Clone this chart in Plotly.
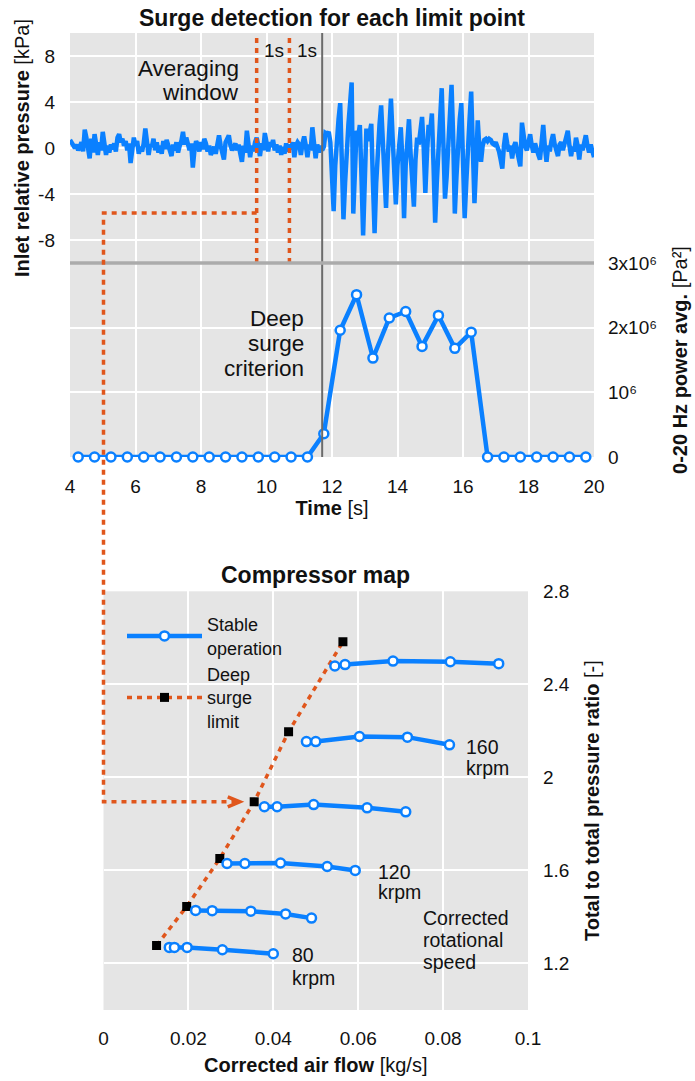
import plotly.graph_objects as go

# ------------------------------------------------------------------ data
# Inlet relative pressure [kPa], sampled every 0.05 s from 4.00 s to 20.00 s
t_start, t_step = 4.0, 0.05
pressure_kpa = [
    0.7, 0.4, 0.2, 0.0, 0.3, -0.2, 0.1, 0.5, -0.3, 1.6, 0.9, 0.2, -0.9, 0.8, -0.4, 1.2, 0.3, -0.6, 0.5, -0.2,
    1.4, 0.6, -0.6, 0.2, -0.4, 0.3, -0.1, 0.4, -0.3, 0.9, 1.2, 0.5, 0.8, 0.2, 0.6, -0.2, 0.4, -1.3, 0.3, 0.9,
    0.2, 0.6, -0.5, 0.1, -0.3, 0.4, 1.7, 0.2, -0.6, 0.3, 0.1, 0.8, -0.2, 0.5, -0.4, 0.2, -0.5, 0.6, -0.1, 0.7,
    0.2, -0.3, -0.7, 0.3, -0.2, 0.5, -0.4, 0.2, 0.6, 1.4, 0.3, 0.9, 0.1, -0.2, 0.4, -1.7, -0.2, 0.6, 0.3, -0.3,
    0.5, -0.1, 0.8, 0.4, -0.3, 0.2, -0.6, -0.3, 0.1, -0.5, 0.6, 1.1, 0.2, -0.4, -1.0, 0.5, 0.9, 1.1, 0.2, -0.2,
    0.1, 0.4, -0.2, 0.3, -0.5, -1.2, 0.2, -0.4, 1.5, 0.6, -0.8, 0.2, -0.3, 0.5, 0.9, 0.2, -0.7, 0.4, -0.2, 1.3,
    0.6, -0.3, 0.5, 0.1, 0.7, -0.2, 0.3, -0.4, 0.2, -0.6, 0.1, -0.5, 0.4, -0.3, 0.3, -0.1, 0.5, -0.8, 0.2, 0.5,
    0.3, -0.6, 0.4, 1.0, 0.2, -0.8, 0.3, -0.2, 1.8, 0.4, -0.9, 0.3, -0.4, 0.2, -0.2, 0.1, 1.3, 1.2, 1.4, 0.5,
    -2.5, -5.5, -1.5, 1.0, 2.5, 3.9, -1.0, -6.2, -3.0, 0.0, 2.0, 3.8, 5.7, -5.7, -1.0, 1.5, 1.0, 2.0, -2.5, -7.6,
    -3.0, 1.7, 0.6, 1.2, 2.1, -3.0, -7.4, -3.0, 0.5, 2.0, 3.7, 0.5, -2.5, -5.2, -1.0, 1.5, 4.3, 1.0, -2.0, -4.9,
    -1.5, 0.3, 1.8, -1.0, -6.1, -1.5, 1.0, 2.5, -0.5, -3.0, -5.1, -1.0, 0.9, 0.3, 1.5, 2.7, 0.0, -3.9, -0.5, 2.0,
    1.5, 3.0, -1.5, -6.5, -3.0, 0.5, 3.0, 5.2, 0.5, -4.4, -2.5, 0.0, 2.5, 5.5, 1.0, -5.7, -2.5, 0.5, 2.5, 3.9,
    -1.0, -6.1, -3.0, 0.5, 2.5, 4.9, 0.5, -4.8, -1.5, 2.4, 0.0, -1.2, 0.2, 0.7, 0.8, 0.6, 0.8, 0.7, 0.4, 0.3,
    0.5, 0.1, -0.3, -1.0, -1.8, 0.2, 1.3, 0.4, -0.3, 0.2, -0.9, 0.1, 0.5, -0.2, -0.8, -1.6, 2.2, 0.9, 0.1, -0.2,
    0.6, 1.2, 0.2, -0.4, 0.4, -0.3, -0.6, -1.0, 0.5, 2.0, 0.1, -1.2, 0.2, -0.3, 0.6, 1.2, 0.3, -0.2, -0.7, 0.3,
    0.5, -0.2, 0.4, 0.9, 1.5, 0.2, -0.7, 0.1, -0.3, 0.9, 0.2, -1.0, 0.3, -0.2, 0.6, 1.1, 0.2, -0.4, 0.3, -0.2,
    -0.8,
]
time_s = [round(t_start + t_step * i, 2) for i in range(len(pressure_kpa))]

# 0-20 Hz power average [Pa^2], one value per 0.5 s window
power_t = [4.25, 4.75, 5.25, 5.75, 6.25, 6.75, 7.25, 7.75, 8.25, 8.75, 9.25, 9.75, 10.25, 10.75,
           11.25, 11.75, 12.25, 12.75, 13.25, 13.75, 14.25, 14.75, 15.25, 15.75, 16.25, 16.75,
           17.25, 17.75, 18.25, 18.75, 19.25, 19.75]
power_pa2 = [0, 0, 0, 0, 0, 0, 0, 0, 0, 0, 0, 0, 0, 0,
             0, 0.36e6, 1.96e6, 2.51e6, 1.53e6, 2.15e6, 2.25e6, 1.71e6, 2.19e6, 1.68e6, 1.93e6, 0,
             0, 0, 0, 0, 0, 0]

window_start, window_end, detection_time = 9.7, 10.7, 11.7

# Compressor map: corrected air flow [kg/s] and total-to-total pressure ratio [-]
speed_flow = {
    80:  [0.0155, 0.0167, 0.0197, 0.0280, 0.0400],
    100: [0.0217, 0.0256, 0.0347, 0.0429, 0.0490],
    120: [0.0291, 0.0333, 0.0417, 0.0527, 0.0593],
    140: [0.0379, 0.0409, 0.0495, 0.0621, 0.0712],
    160: [0.0478, 0.0500, 0.0603, 0.0716, 0.0815],
    180: [0.0545, 0.0569, 0.0682, 0.0817, 0.0931],
}
speed_pr = {
    80:  [1.269, 1.269, 1.269, 1.259, 1.242],
    100: [1.428, 1.427, 1.425, 1.413, 1.395],
    120: [1.630, 1.630, 1.632, 1.617, 1.600],
    140: [1.874, 1.874, 1.883, 1.869, 1.852],
    160: [2.154, 2.154, 2.176, 2.173, 2.140],
    180: [2.479, 2.485, 2.500, 2.497, 2.489],
}
surge_flow = [0.0125, 0.0196, 0.0274, 0.0355, 0.0436, 0.0564]
surge_pr = [1.277, 1.445, 1.651, 1.895, 2.196, 2.583]

time_ticks = [4, 6, 8, 10, 12, 14, 16, 18, 20]
pressure_ticks = [-8, -4, 0, 4, 8]
pressure_ticktext = ["-8", "-4", "0", "4", "8"]
power_ticks = [0, 1e6, 2e6, 3e6]
power_ticktext = ["0", "10\u2076", "2x10\u2076", "3x10\u2076"]
flow_ticks = [0, 0.02, 0.04, 0.06, 0.08, 0.1]
flow_ticktext = ["0", "0.02", "0.04", "0.06", "0.08", "0.1"]
pr_ticks = [1.2, 1.6, 2.0, 2.4, 2.8]
pr_ticktext = ["1.2", "1.6", "2", "2.4", "2.8"]

# ------------------------------------------------------------------ style / geometry
W, H = 695, 1081
FONT = "Liberation Sans, Arial, Helvetica, sans-serif"
TXT = "#111111"
BLUE = "#0a80ff"
ORANGE = "#e0561c"
BG = "#e5e5e5"
DASH = "5px,5px"
LW = 4.5


def px_x(p):
    return p / W


def px_y(p):
    return 1 - p / H


XR_T, YR_P, YR_W = [4, 20], [-10, 10], [0, 3e6]
XR_M, YR_M = [0, 0.1], [1.0, 2.8]
XD_T = [px_x(70), px_x(594)]
YD_P = [px_y(263), px_y(33)]
YD_W = [px_y(457), px_y(263)]
XD_M = [px_x(103.5), px_x(528)]
YD_M = [px_y(1010), px_y(591.3)]


def to_paper(v, rng, dom):
    return dom[0] + (v - rng[0]) / (rng[1] - rng[0]) * (dom[1] - dom[0])


fig = go.Figure()

# top: pressure signal
fig.add_trace(go.Scatter(x=time_s, y=pressure_kpa, xaxis="x", yaxis="y", mode="lines",
                         line=dict(color=BLUE, width=LW), showlegend=False, hoverinfo="skip"))
# bottom: power average
fig.add_trace(go.Scatter(x=power_t, y=power_pa2, xaxis="x", yaxis="y2", mode="lines+markers",
                         line=dict(color=BLUE, width=LW),
                         marker=dict(symbol="circle", size=9, color="white", line=dict(color=BLUE, width=2.5)),
                         cliponaxis=False, showlegend=False))

# compressor map: surge limit
fig.add_trace(go.Scatter(x=surge_flow, y=surge_pr, xaxis="x3", yaxis="y3", mode="lines+markers",
                         name="Deep<br>surge<br>limit", legendrank=2,
                         line=dict(color=ORANGE, width=3.5, dash=DASH),
                         marker=dict(symbol="square", size=9, color="black")))
# compressor map: speed lines
for i, spd in enumerate(speed_flow):
    fig.add_trace(go.Scatter(x=speed_flow[spd], y=speed_pr[spd], xaxis="x3", yaxis="y3",
                             mode="lines+markers", name="Stable<br>operation", legendgroup="stable",
                             legendrank=1, showlegend=(i == 0),
                             line=dict(color=BLUE, width=LW),
                             marker=dict(symbol="circle", size=9, color="white",
                                         line=dict(color=BLUE, width=2.5))))

axis_common = dict(showgrid=True, gridcolor="white", gridwidth=1.5, zeroline=False, showline=False,
                   ticks="", automargin=False, tickfont=dict(family=FONT, size=19, color=TXT))
title_font = dict(family=FONT, size=20, color=TXT)

fig.update_layout(
    width=W, height=H, template="none",
    margin=dict(l=0, r=0, t=0, b=0, pad=0),
    paper_bgcolor="white", plot_bgcolor=BG,
    font=dict(family=FONT, size=19, color=TXT),
    title=dict(text="<b>Surge detection for each limit point</b>", x=(XD_T[0] + XD_T[1]) / 2,
               xanchor="center", y=px_y(18), yanchor="middle", yref="container",
               font=dict(family=FONT, size=23, color=TXT)),
    xaxis=dict(domain=XD_T, range=XR_T, anchor="y2", tickvals=time_ticks, ticklabelstandoff=16,
               title=dict(text="<b>Time</b> [s]", font=title_font, standoff=2), **axis_common),
    yaxis=dict(domain=YD_P, range=YR_P, anchor="x", tickvals=pressure_ticks, ticktext=pressure_ticktext,
               ticklabelstandoff=14,
               title=dict(text="<b>Inlet relative pressure</b> [kPa]", font=title_font, standoff=3),
               **axis_common),
    yaxis2=dict(domain=YD_W, range=YR_W, anchor="x", side="right", tickvals=power_ticks,
                ticktext=power_ticktext, ticklabelstandoff=13,
                title=dict(text="<b>0-20 Hz power avg.</b> [Pa\u00b2]", font=title_font, standoff=16),
                **axis_common),
    xaxis3=dict(domain=XD_M, range=XR_M, anchor="y3", tickvals=flow_ticks, ticktext=flow_ticktext,
                ticklabelstandoff=15,
                title=dict(text="<b>Corrected air flow</b> [kg/s]", font=title_font, standoff=9),
                **axis_common),
    yaxis3=dict(domain=YD_M, range=YR_M, anchor="x3", side="right", tickvals=pr_ticks,
                ticktext=pr_ticktext, ticklabelstandoff=14,
                title=dict(text="<b>Total to total pressure ratio</b> [-]", font=title_font, standoff=16),
                **axis_common),
    legend=dict(x=px_x(122), y=px_y(606), xanchor="left", yanchor="top", bgcolor="rgba(0,0,0,0)",
                font=dict(family=FONT, size=18, color=TXT), itemwidth=75, tracegroupgap=4,
                traceorder="normal"),
    showlegend=True,
)

# ------------------------------------------------------------------ shapes
shapes = []
for tx in (window_start, window_end):
    shapes.append(dict(type="line", xref="x", yref="y domain", x0=tx, x1=tx, y0=0, y1=1,
                       line=dict(color=ORANGE, width=3.5, dash=DASH)))
shapes.append(dict(type="line", xref="x", yref="paper", x0=detection_time, x1=detection_time,
                   y0=YD_W[0], y1=YD_P[1], line=dict(color="#6b6b6b", width=2)))
# separator between the two panels (paper-referenced so it is not clipped)
shapes.append(dict(type="line", xref="paper", yref="paper", x0=XD_T[0], x1=XD_T[1],
                   y0=YD_W[1], y1=YD_W[1], line=dict(color="#ababab", width=3.5)))

connector_level_kpa = -5.65
arrow_end_flow = 0.0321
xa = to_paper(window_start, XR_T, XD_T)
ya = to_paper(connector_level_kpa, YR_P, YD_P)
xb = to_paper(0, XR_M, XD_M)
yb = to_paper(surge_pr[3], YR_M, YD_M)
xc = to_paper(arrow_end_flow, XR_M, XD_M)
shapes.append(dict(type="path", xref="paper", yref="paper",
                   path=f"M {xa},{ya} L {xb},{ya} L {xb},{yb} L {xc},{yb}",
                   line=dict(color=ORANGE, width=3.5, dash=DASH)))
shapes.append(dict(type="path", xref="paper", yref="paper",
                   path=f"M {xc - 12 / W},{yb + 5 / H} L {xc},{yb} L {xc - 12 / W},{yb - 5 / H}",
                   line=dict(color=ORANGE, width=3.5)))
fig.update_layout(shapes=shapes)


# ------------------------------------------------------------------ annotations
def add_text(lines, x, y, xref, yref, xanchor, size, spacing):
    n = len(lines)
    for i, s in enumerate(lines):
        fig.add_annotation(text=s, x=x, y=y, xref=xref, yref=yref, xanchor=xanchor, yanchor="middle",
                           yshift=((n - 1) / 2 - i) * spacing, showarrow=False,
                           font=dict(family=FONT, size=size, color=TXT))


add_text(["Averaging", "window"], 9.21, 5.87, "x", "y", "right", 22.5, 24.5)
add_text(["1s"], window_start + 0.17, 8.5, "x", "y", "left", 19, 0)
add_text(["1s"], window_end + 0.17, 8.5, "x", "y", "left", 19, 0)
add_text(["Deep", "surge", "criterion"], 11.21, 1.754e6, "x", "y2", "right", 22.5, 25)
add_text(["160", "krpm"], 0.0849, 2.086, "x3", "y3", "left", 19.5, 21.5)
add_text(["120", "krpm"], 0.0643, 1.551, "x3", "y3", "left", 19.5, 20.5)
add_text(["80", "krpm"], 0.0439, 1.187, "x3", "y3", "left", 19.5, 22.5)
add_text(["Corrected", "rotational", "speed"], 0.0747, 1.300, "x3", "y3", "left", 19.5, 22.2)

fig.add_annotation(text="<b>Compressor map</b>", xref="x3 domain", yref="y3 domain", x=0.5, y=1,
                   xanchor="center", yanchor="middle", yshift=16, showarrow=False,
                   font=dict(family=FONT, size=23, color=TXT))

fig.write_html("out.html", config={"displayModeBar": False},
               post_script="document.body.style.margin='0';document.body.style.overflow='hidden';")
